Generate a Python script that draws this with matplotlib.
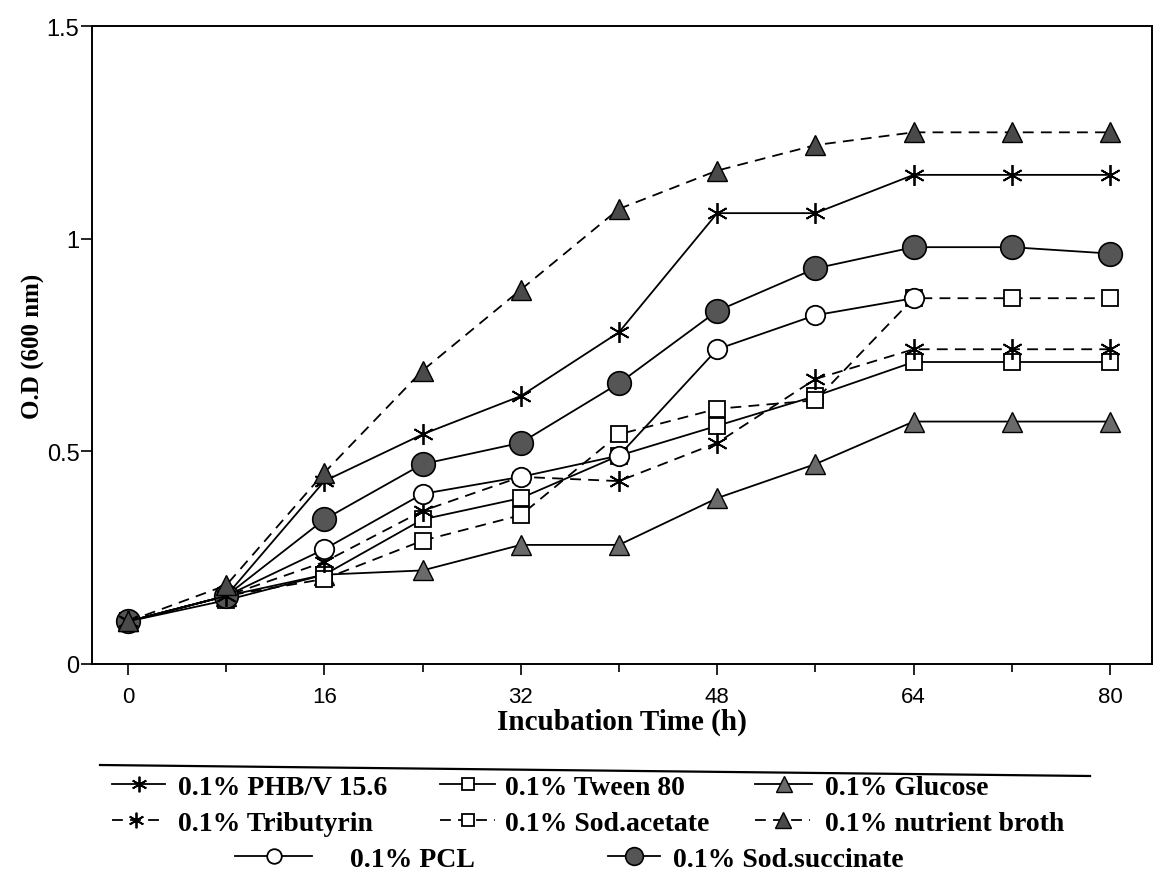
import numpy as np
import matplotlib
matplotlib.use("Agg")
import matplotlib.pyplot as plt
from matplotlib.lines import Line2D

# ---- data ----
hours = [0, 8, 16, 24, 32, 40, 48, 56, 64, 72, 80]

phbv = [0.10, 0.16, 0.43, 0.54, 0.63, 0.78, 1.06, 1.06, 1.15, 1.15, 1.15]
tributyrin = [0.10, 0.16, 0.24, 0.36, 0.44, 0.43, 0.52, 0.67, 0.74, 0.74, 0.74]
pcl = [0.10, 0.16, 0.27, 0.40, 0.44, 0.49, 0.74, 0.82, 0.86, np.nan, np.nan]
tween80 = [0.10, 0.15, 0.21, 0.34, 0.39, 0.49, 0.56, 0.63, 0.71, 0.71, 0.71]
sod_acetate = [0.10, 0.16, 0.20, 0.29, 0.35, 0.54, 0.60, 0.62, 0.86, 0.86, 0.86]
sod_succinate = [0.10, 0.16, 0.34, 0.47, 0.52, 0.66, 0.83, 0.93, 0.98, 0.98, 0.965]
glucose = [0.10, 0.16, 0.21, 0.22, 0.28, 0.28, 0.39, 0.47, 0.57, 0.57, 0.57]
nutrient_broth = [0.10, 0.185, 0.45, 0.69, 0.88, 1.07, 1.16, 1.22, 1.25, 1.25, 1.25]

labels = ["0.1% PHB/V 15.6", "0.1% Tween 80", "0.1% Glucose",
          "0.1% Tributyrin", "0.1% Sod.acetate", "0.1% nutrient broth",
          "0.1% PCL", "0.1% Sod.succinate"]

x_ticks = [0, 16, 32, 48, 64, 80]
y_ticks = [0, 0.5, 1, 1.5]
y_ticklabels = ["0", "0.5", "1", "1.5"]

# ---- figure ----
W, H = 1155, 879
fig = plt.figure(figsize=(W / 100, H / 100), dpi=100)
ax = fig.add_axes([92 / W, 1 - 665 / H, (1152 - 92) / W, (665 - 27) / H])

star = (6, 2, 0)
dash = (0, (6, 4))
lw = 1.3

styles = {
    "phbv": dict(color="black", ls="-", marker=star, ms=15, mew=1.3, mfc="black", mec="black"),
    "tween": dict(color="black", ls="-", marker="s", ms=12, mew=1.3, mfc="white", mec="black"),
    "glu": dict(color="black", ls="-", marker="^", ms=15, mew=1.0, mfc="#6a6a6a", mec="black"),
    "trib": dict(color="black", ls=dash, marker=star, ms=15, mew=1.3, mfc="black", mec="black"),
    "acet": dict(color="black", ls=dash, marker="s", ms=12, mew=1.3, mfc="white", mec="black"),
    "broth": dict(color="black", ls=dash, marker="^", ms=15, mew=1.0, mfc="#4a4a4a", mec="black"),
    "pcl": dict(color="black", ls="-", marker="o", ms=14, mew=1.3, mfc="white", mec="black"),
    "succ": dict(color="black", ls="-", marker="o", ms=17, mew=1.2, mfc="#555555", mec="black"),
}

series = [("glu", glucose), ("tween", tween80), ("acet", sod_acetate),
          ("trib", tributyrin), ("pcl", pcl), ("succ", sod_succinate),
          ("phbv", phbv), ("broth", nutrient_broth)]
for key, vals in series:
    ax.plot(hours, vals, lw=lw, **styles[key])

ax.set_xlim(-2.93, 83.42)
ax.set_ylim(0, 1.5)
ax.set_xticks(x_ticks)
ax.set_xticks([8, 24, 40, 56, 72], minor=True)
ax.set_yticks(y_ticks)
ax.set_yticklabels(y_ticklabels)
for lab in ax.get_xticklabels():
    lab.set_fontfamily("Liberation Sans")
    lab.set_fontsize(16)
for lab in ax.get_yticklabels():
    lab.set_fontfamily("Liberation Sans")
    lab.set_fontsize(17)
ax.tick_params(axis="y", which="major", direction="out", length=8, width=1.2, pad=1)
ax.tick_params(axis="x", which="major", direction="out", length=8, width=1.2, pad=8)
ax.tick_params(axis="x", which="minor", direction="out", length=6, width=1.2)
for sp in ax.spines.values():
    sp.set_linewidth(1.4)

ax.set_xlabel("Incubation Time (h)", fontfamily="Liberation Serif", fontweight="bold",
              fontsize=21, labelpad=0)
ax.set_ylabel("O.D (600 nm)", fontfamily="Liberation Serif", fontweight="bold",
              fontsize=18)
ax.yaxis.set_label_coords((45 - 92) / (1152 - 92), 0.5)

# ---- legend (one entry per small legend, placed like the original) ----
FS = 20
FSPX = FS * 100 / 72
leg_font = dict(family="Liberation Serif", weight="bold", size=FS)


def place_entry(key, text, x0, x1, xt, yc):
    st = dict(styles[key])
    h = Line2D([], [], lw=lw, **st)
    leg = fig.legend([h], [text], loc="center left",
                     bbox_to_anchor=(x0 / W, 1 - yc / H), bbox_transform=fig.transFigure,
                     frameon=False, prop=leg_font, borderpad=0, borderaxespad=0,
                     handlelength=(x1 - x0) / FSPX, handletextpad=(xt - x1) / FSPX,
                     markerscale=0.75)
    return leg


rows = [
    ("phbv", labels[0], 112, 165, 178, 788),
    ("tween", labels[1], 440, 495, 505, 788),
    ("glu", labels[2], 755, 812, 825, 788),
    ("trib", labels[3], 112, 160, 178, 824),
    ("acet", labels[4], 440, 495, 505, 824),
    ("broth", labels[5], 755, 810, 825, 824),
    ("pcl", labels[6], 235, 312, 350, 860),
    ("succ", labels[7], 608, 660, 673, 860),
]
for r in rows:
    place_entry(*r)

fig.add_artist(Line2D([100 / W, 1090 / W], [1 - 766 / H, 1 - 777 / H],
                      transform=fig.transFigure, color="black", lw=1.6))

fig.savefig("out.png", dpi=100, facecolor="white")
